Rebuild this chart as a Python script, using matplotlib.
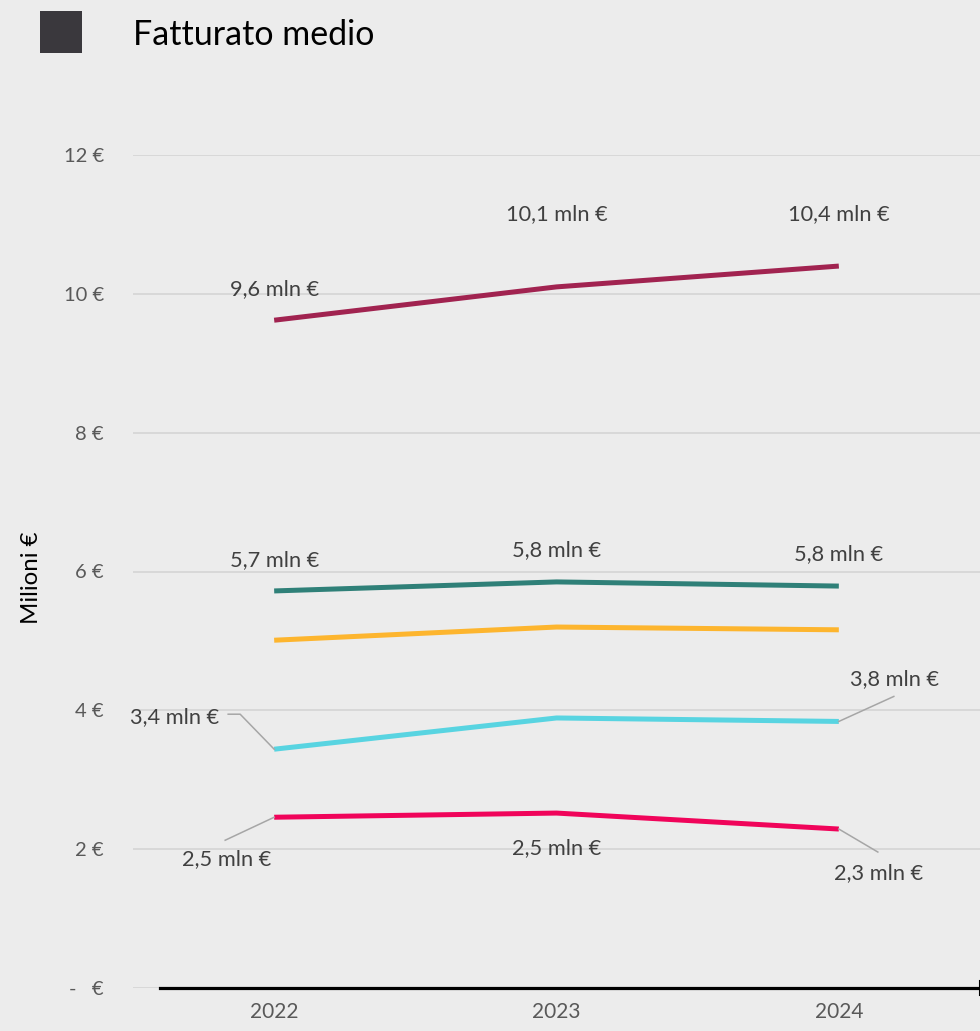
import matplotlib
matplotlib.use("Agg")
import matplotlib.pyplot as plt
from matplotlib.lines import Line2D
from matplotlib.patches import Rectangle
from matplotlib.transforms import IdentityTransform

plt.rcParams['font.family'] = ['Lato', 'DejaVu Sans']

# ---- data ----
years = [2022, 2023, 2024]
purple = [9.62, 10.10, 10.40]
teal = [5.72, 5.85, 5.79]
orange = [5.01, 5.20, 5.16]
cyan = [3.44, 3.89, 3.84]
red = [2.46, 2.52, 2.29]
yticks = [0, 2, 4, 6, 8, 10, 12]
ytick_labels = ["-   €", "2 €", "4 €", "6 €", "8 €", "10 €", "12 €"]
title = "Fatturato medio"
ylabel = "Milioni €"

# ---- styles ----
colors = {"purple": "#A12350", "teal": "#2F8078", "orange": "#FDB52E",
          "cyan": "#58D4E1", "red": "#F0045A"}
BG = "#ECECEC"
W, H = 980, 1031

fig = plt.figure(figsize=(W / 100, H / 100), dpi=100, facecolor=BG)
ax = fig.add_axes([133 / W, (H - 988) / H, 847 / W, 833 / H])
ax.set_facecolor(BG)
ax.set_xlim(2021.5, 2024.5)
ax.set_ylim(0, 12)

for s in ax.spines.values():
    s.set_visible(False)
ax.set_yticks(yticks)
ax.set_yticklabels(ytick_labels)
ax.set_xticks(years)
ax.set_xticklabels([str(y) for y in years])
ax.tick_params(axis='y', length=0, pad=21, labelsize=14.5, labelcolor="#595959")
ax.tick_params(axis='x', length=0, pad=10, labelsize=15, labelcolor="#595959")
ax.grid(axis='y', color="#D6D6D6", linewidth=1.3, zorder=0)
ax.set_axisbelow(True)

# bottom axis line
ax.axhline(0, xmin=27 / 847, xmax=1.0, color="black", linewidth=2.3, zorder=3, clip_on=False)
ax.plot([2024.5, 2024.5], [-0.1, 0.1], color="black", linewidth=1.5, clip_on=False, zorder=3)

lw = 3.6
data = [(purple, colors["purple"]), (teal, colors["teal"]), (orange, colors["orange"]),
        (cyan, colors["cyan"]), (red, colors["red"])]
for vals, c in data:
    ax.plot(years, vals, color=c, linewidth=lw, solid_capstyle='butt', zorder=4)

def fmt(v):
    return f"{v:.1f}".replace(".", ",") + " mln €"

# labels: (series, index, dx px, dy px)
label_specs = [
    (purple, 0, 0, 31), (purple, 1, 0, 73), (purple, 2, 0, 52),
    (teal, 0, 0, 31), (teal, 1, 0, 32), (teal, 2, 0, 32),
    (cyan, 0, -100, 32), (cyan, 2, 56, 42),
    (red, 0, -48, -42), (red, 1, 0, -35), (red, 2, 40, -44),
]
for vals, i, dx, dy in label_specs:
    ax.annotate(fmt(vals[i]), xy=(years[i], vals[i]), xytext=(dx, dy),
                textcoords='offset pixels', ha='center', va='center',
                fontsize=15.7, color="#404040", zorder=5, annotation_clip=False)

# leader lines (pixel offsets from point)
leaders = [
    (cyan, 0, [(-46, 35), (-34, 35), (0, 0)]),
    (cyan, 2, [(55, 25), (0, 0)]),
    (red, 0, [(-49, -23), (0, 0)]),
    (red, 2, [(39, -23), (0, 0)]),
]
for vals, i, offs in leaders:
    px, py = ax.transData.transform((years[i], vals[i]))
    xs = [px + o[0] for o in offs]
    ys = [py + o[1] for o in offs]
    fig.add_artist(Line2D(xs, ys, transform=IdentityTransform(), color="#A6A6A6",
                          linewidth=1.1, zorder=5))

# y label
fig.text(32 / W, 1 - 578 / H, ylabel, rotation=90, ha='center', va='center',
         fontsize=17.3, color="black")

# title with square
fig.add_artist(Rectangle((40 / W, 1 - 53 / H), 42 / W, 42 / H, transform=fig.transFigure,
                         facecolor="#3A383D", edgecolor="none"))
fig.text(133 / W, 1 - 35 / H, title, ha='left', va='center', fontsize=24.5, color="black")

fig.savefig("out.png", dpi=100, facecolor=BG)
